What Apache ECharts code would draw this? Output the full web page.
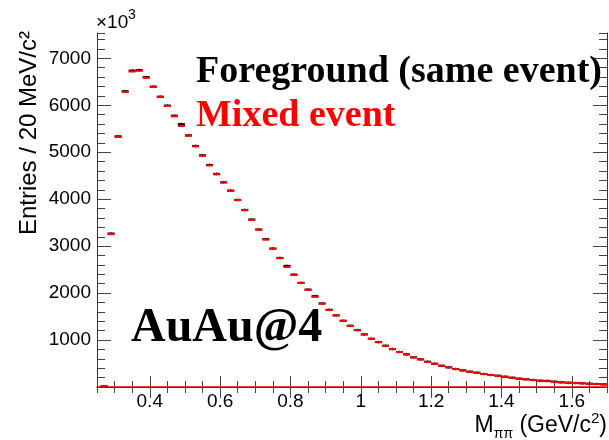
<!DOCTYPE html>
<html>
<head>
<meta charset="utf-8">
<script src="https://cdn.jsdelivr.net/npm/echarts@6/dist/echarts.min.js"></script>
<style>
  html, body { margin: 0; padding: 0; background: #fff; }
  #chart { width: 609px; height: 440px; }
</style>
</head>
<body>
<div id="chart"></div>
<script>
// Di-pion invariant mass, 20 MeV bins starting at 0.26 GeV/c^2 (entries in units of 10^3)
const BIN_START = 0.26;
const BIN_WIDTH = 0.02;

// Foreground (same event) histogram contents
const foreground = [
  15, 3270, 5340, 6300, 6740, 6750, 6600, 6400, 6185, 5995,
  5780, 5600, 5360, 5135, 4936, 4730, 4540, 4360, 4185, 3985,
  3772, 3568, 3355, 3150, 2950, 2750, 2580, 2395, 2220, 2075,
  1935, 1780, 1645, 1525, 1411, 1305, 1213, 1121, 1028, 957,
  879, 808, 745, 696, 632, 589, 540, 496, 453, 419,
  383, 355, 326, 304, 277, 255, 240, 219, 198, 177,
  164, 149, 134, 131, 113, 100, 91, 85, 79, 70,
  64, 57
];

// Mixed event histogram contents
const mixed = [
  20, 3255, 5325, 6285, 6720, 6735, 6585, 6390, 6175, 5985,
  5765, 5560, 5350, 5125, 4925, 4720, 4530, 4355, 4175, 3980,
  3765, 3560, 3350, 3140, 2945, 2745, 2555, 2385, 2215, 2070,
  1920, 1775, 1640, 1525, 1410, 1300, 1210, 1118, 1025, 955,
  878, 806, 745, 694, 632, 587, 532, 494, 452, 418,
  382, 354, 325, 303, 277, 255, 238, 218, 197, 177,
  163, 148, 134, 125, 113, 100, 91, 84, 78, 70,
  64, 57
];

// Axis ranges and tick values
const X_MIN = 0.25, X_MAX = 1.7;
const Y_MIN = 0, Y_MAX = 7540;
const xMajorTicks = [0.4, 0.6, 0.8, 1.0, 1.2, 1.4, 1.6];
const yMajorTicks = [1000, 2000, 3000, 4000, 5000, 6000, 7000];
const X_MINOR_STEP = 0.05;
const Y_MINOR_STEP = 200;

const binLow = foreground.map((_, i) => +(BIN_START + i * BIN_WIDTH).toFixed(2));
const fgData = binLow.map((x, i) => [x, foreground[i]]);
const mixData = binLow.map((x, i) => [x, mixed[i]]);

const FRAME = '#333';
const TICK = '#444';
const SANS = '"Liberation Sans", Arial, sans-serif';
const SERIF = '"Liberation Serif", "Times New Roman", serif';

// Each bin drawn as a horizontal segment spanning its width, plus a short error tick
function histRenderer(color, errHalf) {
  return function (params, api) {
    const x0 = api.value(0);
    const v = api.value(1);
    const a = api.coord([x0, v]);
    const b = api.coord([x0 + BIN_WIDTH, v]);
    const children = [{
      type: 'line',
      shape: { x1: a[0], y1: a[1], x2: b[0], y2: b[1] },
      style: { stroke: color, lineWidth: 2 }
    }];
    if (errHalf > 0) {
      const cx = (a[0] + b[0]) / 2;
      children.push({
        type: 'line',
        shape: { x1: cx, y1: a[1] - errHalf, x2: cx, y2: a[1] + errHalf },
        style: { stroke: color, lineWidth: 1, opacity: 0.7 }
      });
    }
    return { type: 'group', children };
  };
}

function minorX(position) {
  return {
    type: 'value', position, min: X_MIN, max: X_MAX, interval: X_MINOR_STEP,
    axisLine: { show: false }, axisLabel: { show: false }, splitLine: { show: false },
    axisTick: { show: true, inside: true, length: 6, lineStyle: { color: TICK, width: 1 } }
  };
}
function minorY(position) {
  return {
    type: 'value', position, min: Y_MIN, max: Y_MAX, interval: Y_MINOR_STEP,
    axisLine: { show: false }, axisLabel: { show: false }, splitLine: { show: false },
    axisTick: { show: true, inside: true, length: 8, lineStyle: { color: TICK, width: 1 } }
  };
}

const chart = echarts.init(document.getElementById('chart'), null, { renderer: 'canvas' });

chart.setOption({
  backgroundColor: '#fff',
  animation: false,
  grid: { left: 97, right: 2, top: 33, bottom: 53, containLabel: false },
  xAxis: [
    {
      type: 'value', position: 'bottom', min: X_MIN, max: X_MAX,
      axisLine: { show: true, lineStyle: { color: '#ff0000', width: 1.5 } },
      axisTick: { show: true, inside: true, length: 11, customValues: xMajorTicks,
                  lineStyle: { color: TICK, width: 1 } },
      axisLabel: { show: true, customValues: xMajorTicks, margin: 5,
                   fontFamily: SANS, fontSize: 19, color: '#000',
                   formatter: v => String(+v.toFixed(2)) },
      splitLine: { show: false }
    },
    minorX('bottom'),
    {
      type: 'value', position: 'top', min: X_MIN, max: X_MAX,
      axisLine: { show: true, lineStyle: { color: FRAME, width: 1 } },
      axisTick: { show: true, inside: true, length: 11, customValues: xMajorTicks,
                  lineStyle: { color: TICK, width: 1 } },
      axisLabel: { show: false }, splitLine: { show: false }
    },
    minorX('top')
  ],
  yAxis: [
    {
      type: 'value', position: 'left', min: Y_MIN, max: Y_MAX,
      axisLine: { show: true, lineStyle: { color: FRAME, width: 1 } },
      axisTick: { show: true, inside: true, length: 14, customValues: yMajorTicks,
                  lineStyle: { color: TICK, width: 1 } },
      axisLabel: { show: true, customValues: yMajorTicks, margin: 6,
                   fontFamily: SANS, fontSize: 19, color: '#000',
                   formatter: v => String(v) },
      splitLine: { show: false }
    },
    minorY('left'),
    {
      type: 'value', position: 'right', min: Y_MIN, max: Y_MAX,
      axisLine: { show: true, lineStyle: { color: FRAME, width: 1 } },
      axisTick: { show: true, inside: true, length: 14, customValues: yMajorTicks,
                  lineStyle: { color: TICK, width: 1 } },
      axisLabel: { show: false }, splitLine: { show: false }
    },
    minorY('right')
  ],
  series: [
    {
      name: 'Foreground (same event)', type: 'custom', xAxisIndex: 0, yAxisIndex: 0,
      renderItem: histRenderer('#000000', 1.5), data: fgData, clip: true, z: 3
    },
    {
      name: 'Mixed event', type: 'custom', xAxisIndex: 0, yAxisIndex: 0,
      renderItem: histRenderer('#ff0000', 0), data: mixData, clip: true, z: 4
    }
  ],
  graphic: [
    { type: 'text', x: 96, y: 23, z: 10,
      style: { text: '×10', font: '19px ' + SANS, fill: '#000',
               align: 'left', verticalAlign: 'middle' } },
    { type: 'text', x: 128, y: 15, z: 10,
      style: { text: '3', font: '14px ' + SANS, fill: '#000',
               align: 'left', verticalAlign: 'middle' } },
    { type: 'text', x: 29, y: 31, rotation: Math.PI / 2, z: 10,
      style: { text: 'Entries / 20 MeV/c²', font: '24px ' + SANS,
               fill: '#000', align: 'right', verticalAlign: 'middle' } },
    { type: 'text', x: 607, y: 411, z: 10,
      style: {
        text: '{m|M}{s|ππ}{t| (GeV/c}{p|2}{t|)}',
        align: 'right', verticalAlign: 'top', fill: '#000',
        rich: {
          m: { fontFamily: SANS, fontSize: 23, lineHeight: 30, fill: '#000' },
          t: { fontFamily: SANS, fontSize: 23, lineHeight: 30, fill: '#000' },
          s: { fontFamily: SANS, fontSize: 14, lineHeight: 13, verticalAlign: 'bottom', fill: '#000' },
          p: { fontFamily: SANS, fontSize: 15, lineHeight: 6, verticalAlign: 'top', fill: '#000' }
        }
      } },
    { type: 'text', x: 196, y: 72, z: 10,
      style: { text: 'Foreground (same event)', font: 'bold 38px ' + SERIF,
               fill: '#000', align: 'left', verticalAlign: 'middle' } },
    { type: 'text', x: 196, y: 116, z: 10,
      style: { text: 'Mixed event', font: 'bold 38px ' + SERIF,
               fill: '#ff0000', align: 'left', verticalAlign: 'middle' } },
    { type: 'text', x: 131, y: 329, z: 10,
      style: { text: 'AuAu@4', font: 'bold 48px ' + SERIF,
               fill: '#000', align: 'left', verticalAlign: 'middle' } }
  ]
});
</script>
</body>
</html>
